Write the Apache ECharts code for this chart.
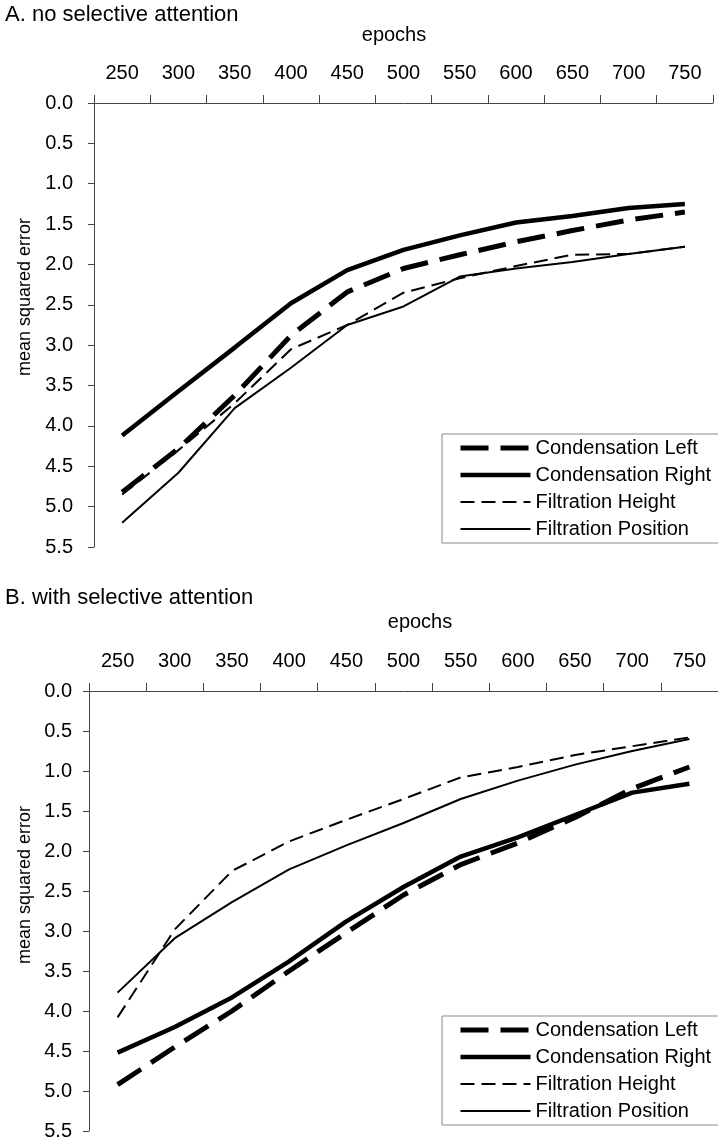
<!DOCTYPE html>
<html>
<head>
<meta charset="utf-8">
<script src="https://cdn.jsdelivr.net/npm/echarts@6/dist/echarts.min.js"></script>
<style>
html,body{margin:0;padding:0;background:#fff;}
#c{width:718px;height:1145px;}
</style>
</head>
<body>
<div id="c"></div>
<script>
// ---- data ----
const epochs = ['250','300','350','400','450','500','550','600','650','700','750'];
const seriesNames = ['Condensation Left','Condensation Right','Filtration Height','Filtration Position'];

// Panel A: no selective attention
const aCondLeft   = [4.82, 4.28, 3.62, 2.88, 2.34, 2.05, 1.88, 1.72, 1.58, 1.45, 1.35];
const aCondRight  = [4.12, 3.57, 3.03, 2.48, 2.07, 1.82, 1.64, 1.48, 1.40, 1.30, 1.25];
const aFiltHeight = [4.85, 4.30, 3.72, 3.05, 2.75, 2.35, 2.17, 2.02, 1.88, 1.87, 1.78];
const aFiltPos    = [5.20, 4.58, 3.78, 3.28, 2.75, 2.52, 2.15, 2.05, 1.97, 1.87, 1.78];

// Panel B: with selective attention
const bCondLeft   = [4.92, 4.45, 4.00, 3.50, 3.02, 2.55, 2.17, 1.90, 1.58, 1.22, 0.95];
const bCondRight  = [4.52, 4.20, 3.83, 3.38, 2.88, 2.45, 2.07, 1.83, 1.55, 1.27, 1.16];
const bFiltHeight = [4.08, 2.98, 2.25, 1.88, 1.61, 1.35, 1.08, 0.95, 0.80, 0.69, 0.58];
const bFiltPos    = [3.77, 3.09, 2.64, 2.23, 1.93, 1.65, 1.35, 1.12, 0.92, 0.75, 0.60];

const titleA = 'A. no selective attention';
const titleB = 'B. with selective attention';
const xName = 'epochs';
const yName = 'mean squared error';

// ---- styles ----
const FONT = '"Liberation Sans", Arial, sans-serif';
const styles = [
  {width: 5,   type: [28, 12]},
  {width: 4.5, type: 'solid'},
  {width: 2,   type: [14, 7]},
  {width: 2,   type: 'solid'}
];

function xAxisCfg(gi){
  return {
    type: 'category', gridIndex: gi, data: epochs, position: 'top', boundaryGap: true,
    axisLine: {onZero: false, lineStyle: {color: '#444', width: 1}},
    axisTick: {show: true, inside: false, length: 8, lineStyle: {color: '#444'}},
    axisLabel: {interval: 0, margin: 20, fontSize: 20, color: '#000', fontFamily: FONT},
    splitLine: {show: false}
  };
}
function yAxisCfg(gi, margin){
  return {
    type: 'value', gridIndex: gi, inverse: true, min: 0, max: 5.5, interval: 0.5,
    axisLine: {show: true, lineStyle: {color: '#444', width: 1}},
    axisTick: {show: true, inside: false, length: 6, lineStyle: {color: '#444'}},
    axisLabel: {margin: margin, fontSize: 20, color: '#000', fontFamily: FONT,
      formatter: v => v.toFixed(1)},
    splitLine: {show: false}
  };
}
function seriesFor(gi, arrays){
  return arrays.map((d, i) => ({
    name: seriesNames[i], type: 'line', xAxisIndex: gi, yAxisIndex: gi,
    data: d, symbol: 'none', showSymbol: false, smooth: false,
    lineStyle: {color: '#000', width: styles[i].width, type: styles[i].type},
    itemStyle: {color: '#000'},
    emphasis: {disabled: true}
  }));
}
function legendCfg(top){
  return {
    show: true, orient: 'vertical', left: 442, top: top,
    padding: [4, 16, 4, 16], itemGap: 7, itemWidth: 70, itemHeight: 14,
    borderColor: '#888', borderWidth: 1, backgroundColor: '#fff',
    selectedMode: false,
    itemStyle: {opacity: 0},
    textStyle: {fontSize: 20, color: '#000', fontFamily: FONT},
    data: seriesNames.map((n, i) => ({name: n,
      itemStyle: {opacity: 0},
      lineStyle: {color: '#000', width: styles[i].width, type: styles[i].type}}))
  };
}
function txt(x, y, s, opts){
  return {type: 'text', x: x, y: y, silent: true,
    style: Object.assign({text: s, fill: '#000', fontSize: 20, fontFamily: FONT,
      textAlign: 'left', textVerticalAlign: 'middle'}, opts || {})};
}

const chart = echarts.init(document.getElementById('c'), null, {renderer: 'canvas'});
chart.setOption({
  animation: false,
  backgroundColor: '#fff',
  grid: [
    {left: 94, top: 103, width: 619, height: 444},
    {left: 89, top: 691, width: 629, height: 440}
  ],
  xAxis: [xAxisCfg(0), xAxisCfg(1)],
  yAxis: [yAxisCfg(0, 21), yAxisCfg(1, 17)],
  legend: [legendCfg(434), legendCfg(1016)],
  series: seriesFor(0, [aCondLeft, aCondRight, aFiltHeight, aFiltPos])
    .concat(seriesFor(1, [bCondLeft, bCondRight, bFiltHeight, bFiltPos])),
  graphic: [
    txt(5, 15, titleA, {fontSize: 22}),
    txt(394, 35, xName, {textAlign: 'center'}),
    Object.assign(txt(25, 297, yName, {textAlign: 'center', fontSize: 18}), {rotation: Math.PI/2}),
    txt(5, 598, titleB, {fontSize: 22}),
    txt(420, 622, xName, {textAlign: 'center'}),
    Object.assign(txt(25, 885, yName, {textAlign: 'center', fontSize: 18}), {rotation: Math.PI/2})
  ]
});
</script>
</body>
</html>
